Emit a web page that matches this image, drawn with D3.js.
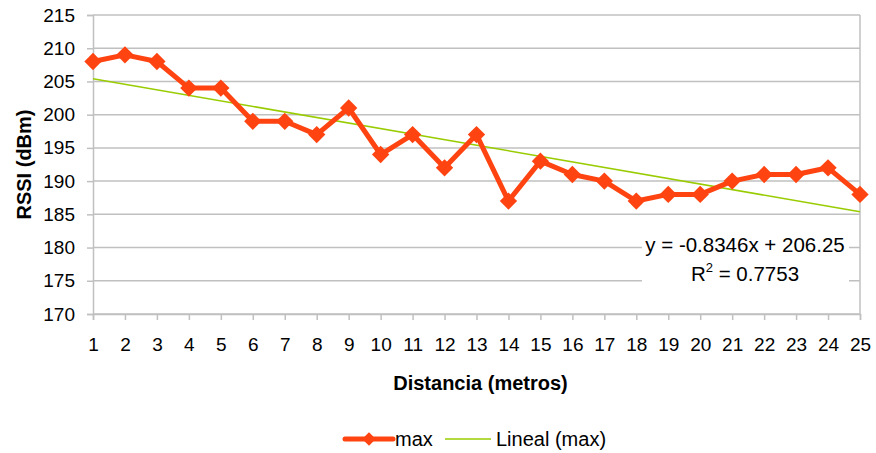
<!DOCTYPE html>
<html>
<head>
<meta charset="utf-8">
<script src="https://cdn.jsdelivr.net/npm/d3@7"></script>
<style>
  body { margin: 0; background: #fff; }
  text { font-family: "Liberation Sans", Arial, sans-serif; }
</style>
</head>
<body>
<div id="chart"></div>
<script>
// data
var distancias = d3.range(1, 26);
var rssiMax = [208, 209, 208, 204, 204, 199, 199, 197, 201, 194, 197, 192, 197,
               187, 193, 191, 190, 187, 188, 188, 190, 191, 191, 192, 188];
var yTicks = [170, 175, 180, 185, 190, 195, 200, 205, 210, 215];
var trendSlope = -0.8346;
var trendIntercept = 206.25;
var trendR2 = 0.7753;

var svgWidth = 876;
var svgHeight = 453;
var margin = { top: 15, right: 16, bottom: 139, left: 93 };
var width = svgWidth - margin.left - margin.right;
var height = svgHeight - margin.top - margin.bottom;

var svg = d3.select("#chart")
    .append("svg")
    .attr("width", svgWidth)
    .attr("height", svgHeight);

var chartGroup = svg.append("g")
    .attr("transform", `translate(${margin.left}, ${margin.top})`);

var xScale = d3.scaleLinear()
    .domain([1, 25])
    .range([0, width]);
var yScale = d3.scaleLinear()
    .domain([170, 215])
    .range([height, 0]);

// gridlines
chartGroup.selectAll(".grid")
    .data(yTicks)
    .enter()
    .append("line")
    .attr("x1", 0)
    .attr("x2", width)
    .attr("y1", d => yScale(d))
    .attr("y2", d => yScale(d))
    .attr("stroke", "#c0c0c0")
    .attr("stroke-width", 1.5);

// right border
chartGroup.append("line")
    .attr("x1", width).attr("x2", width)
    .attr("y1", 0).attr("y2", height)
    .attr("stroke", "#c0c0c0")
    .attr("stroke-width", 1.5);

// axes
var leftAxis = d3.axisLeft(yScale).tickValues(yTicks).tickSize(6).tickPadding(12);
var bottomAxis = d3.axisBottom(xScale).tickValues(distancias).tickSize(6).tickPadding(18)
    .tickFormat(d3.format("d"));

var yAxisG = chartGroup.append("g").call(leftAxis);
var xAxisG = chartGroup.append("g")
    .attr("transform", `translate(0, ${height})`)
    .call(bottomAxis);

[yAxisG, xAxisG].forEach(g => {
    g.select(".domain").attr("stroke", "#c0c0c0").attr("stroke-width", 1.5);
    g.selectAll(".tick line").attr("stroke", "#c0c0c0").attr("stroke-width", 1.5);
    g.selectAll(".tick text")
        .attr("fill", "#000")
        .style("font-size", "19px")
        .style("font-family", "'Liberation Sans', Arial, sans-serif");
});

// trend line
chartGroup.append("line")
    .attr("x1", xScale(1))
    .attr("y1", yScale(trendSlope * 1 + trendIntercept))
    .attr("x2", xScale(25))
    .attr("y2", yScale(trendSlope * 25 + trendIntercept))
    .attr("stroke", "#99cc00")
    .attr("stroke-width", 1.5);

// data line
var line = d3.line()
    .x((d, i) => xScale(distancias[i]))
    .y(d => yScale(d));

chartGroup.append("path")
    .datum(rssiMax)
    .attr("d", line)
    .attr("fill", "none")
    .attr("stroke", "#ff4411")
    .attr("stroke-width", 5)
    .attr("stroke-linejoin", "round");

chartGroup.selectAll(".marker")
    .data(rssiMax)
    .enter()
    .append("path")
    .attr("class", "marker")
    .attr("d", d3.symbol().type(d3.symbolSquare).size(150))
    .attr("transform", (d, i) => `translate(${xScale(distancias[i])}, ${yScale(d)}) rotate(45)`)
    .attr("fill", "#ff4411");

// equation label
var labelX = 745;
svg.append("rect")
    .attr("x", 642)
    .attr("y", 232)
    .attr("width", 207)
    .attr("height", 58)
    .attr("fill", "#fff");

svg.append("text")
    .attr("x", labelX)
    .attr("y", 252)
    .attr("text-anchor", "middle")
    .style("font-size", "20.5px")
    .text(`y = ${trendSlope}x + ${trendIntercept}`);

var r2 = svg.append("text")
    .attr("x", labelX)
    .attr("y", 281)
    .attr("text-anchor", "middle")
    .style("font-size", "20.5px");
r2.append("tspan").text("R");
r2.append("tspan").attr("dy", -9).style("font-size", "13px").text("2");
r2.append("tspan").attr("dy", 9).text(` = ${trendR2}`);

// axis titles
svg.append("text")
    .attr("transform", `translate(31, ${margin.top + height / 2}) rotate(-90)`)
    .attr("text-anchor", "middle")
    .style("font-size", "20px")
    .style("font-weight", "bold")
    .text("RSSI (dBm)");

svg.append("text")
    .attr("x", margin.left + width / 2 + 4)
    .attr("y", 390)
    .attr("text-anchor", "middle")
    .style("font-size", "20px")
    .style("font-weight", "bold")
    .text("Distancia (metros)");

// legend
var legend = svg.append("g").attr("transform", "translate(0, 439)");
legend.append("line")
    .attr("x1", 345).attr("x2", 393)
    .attr("stroke", "#ff4411").attr("stroke-width", 5)
    .attr("stroke-linecap", "round");
legend.append("path")
    .attr("d", d3.symbol().type(d3.symbolSquare).size(90))
    .attr("transform", "translate(369, 0) rotate(45)")
    .attr("fill", "#ff4411");
legend.append("text")
    .attr("x", 395).attr("y", 6.5)
    .style("font-size", "20px")
    .text("max");
legend.append("line")
    .attr("x1", 445).attr("x2", 491)
    .attr("stroke", "#99cc00").attr("stroke-width", 1.5);
legend.append("text")
    .attr("x", 496).attr("y", 6.5)
    .style("font-size", "20px")
    .text("Lineal (max)");
</script>
</body>
</html>
